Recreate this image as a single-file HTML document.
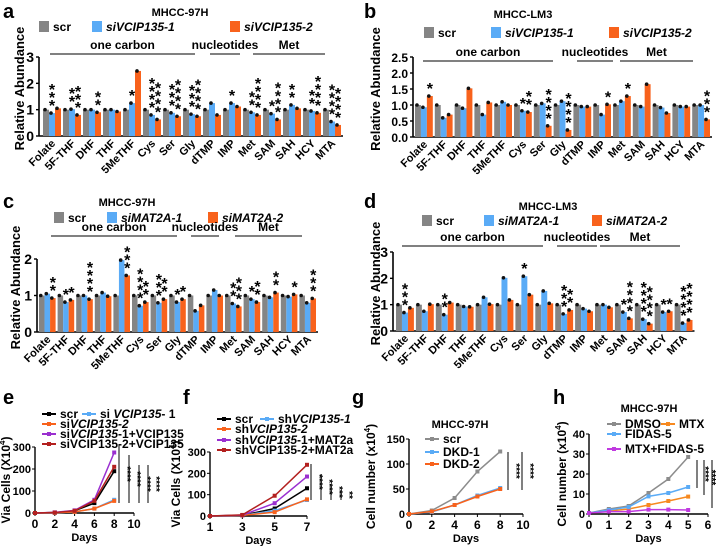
<!DOCTYPE html>
<html><head><meta charset="utf-8">
<style>
body{margin:0;background:#fff;}
svg{display:block;font-family:"Liberation Sans",Arial,sans-serif;}
text{font-weight:bold;fill:#000;}
</style></head>
<body>
<svg id="fig" width="716" height="546" viewBox="0 0 716 546" xmlns="http://www.w3.org/2000/svg"></svg>
<script>
// ---------- DATA ----------
const metabolites = ["Folate","5F-THF","DHF","THF","5MeTHF","Cys","Ser","Gly","dTMP","IMP","Met","SAM","SAH","HCY","MTA"];
const aScr = [1,1,1,1,1,1,1,1,1,1,1,1,1,1,1];
const aSi1 = [0.87,1.02,1.0,1.0,1.25,0.8,0.88,0.83,1.25,1.25,0.9,0.85,1.18,0.95,0.55];
const aSi2 = [1.05,0.8,0.9,0.93,2.47,0.63,0.75,0.75,0.8,1.12,0.8,0.63,1.05,0.88,0.42];
const aStars1 = [3,2,0,0,1,4,3,3,0,1,2,1,2,2,4];
const aStars2 = [0,3,2,0,0,4,4,4,0,0,4,4,0,4,4];
const bScr = [1,1,1,1,1,1,1,1,1,1,1,1,1,1,1];
const bSi1 = [0.93,0.6,0.9,0.7,1.1,0.82,1.05,1.12,0.95,0.7,1.12,0.95,0.92,0.95,1.0];
const bSi2 = [1.28,0.7,1.52,1.08,1.0,0.78,0.35,0.22,0.95,1.02,1.28,1.65,0.75,0.95,0.55];
const bStars1 = [0,0,0,0,0,1,0,0,0,0,0,0,0,0,0];
const bStars2 = [1,0,0,0,0,2,4,4,0,1,1,0,0,0,3];
const cScr = [1,1,1,1,1,1,1,1,1,1,1,1,1,1,1];
const cSi1 = [1.05,0.82,1.0,1.08,1.97,0.72,0.8,0.82,0.58,1.15,0.78,0.9,0.95,0.97,0.8];
const cSi2 = [0.93,0.88,0.9,0.98,1.55,0.82,0.9,0.9,0.73,1.0,0.7,0.82,1.08,1.03,0.92];
const cStars1 = [0,1,0,0,0,4,3,1,0,0,2,1,0,0,0];
const cStars2 = [2,1,4,0,3,2,2,1,0,0,3,2,2,1,3];
const dScr = [1,1,1,1,1,1,1,1,1,1,1,1,1,1,1];
const dSi1 = [0.7,0.75,0.62,0.93,1.28,2.02,2.08,1.52,0.65,0.85,1.0,0.72,0.45,0.72,0.3];
const dSi2 = [0.88,1.02,1.08,0.92,1.02,1.18,1.38,1.05,0.8,0.75,0.9,0.48,0.28,0.75,0.42];
const dStars1 = [3,0,2,0,0,0,1,0,3,0,0,1,4,1,4];
const dStars2 = [0,0,0,0,0,0,0,0,2,0,0,4,4,1,4];
const ticksA = [0,1,2,3];
const ticksB = [0,0.5,1,1.5,2,2.5];
const ticksC = [0,1,2];
const ticksD = [0,1,2,3];

const eDays = [0,2,4,6,8];
const eScr = [0,2,10,45,190];
const eSi1 = [0,1,5,20,60];
const eSi2 = [0,1,5,20,55];
const eSi1V = [0,3,12,60,275];
const eSi2V = [0,2,10,55,210];
const eXt = [0,2,4,6,8,10];
const eYt = [0,100,200,300];

const fDays = [1,3,5,7];
const fScr = [0,3,35,130];
const fSh1 = [0,3,25,75];
const fSh2 = [0,3,18,78];
const fSh1M = [0,4,60,185];
const fSh2M = [0,5,95,240];
const fXt = [1,3,5,7];
const fYt = [0,100,200,300];

const gDays = [0,2,4,6,8];
const gScr = [0,7,32,85,125];
const gDkd1 = [0,4,18,37,52];
const gDkd2 = [0,5,18,35,50];
const gXt = [0,2,4,6,8,10];
const gYt = [0,50,100,150];

const hDays = [0,1,2,3,4,5];
const hDmso = [0.5,2.5,4,10.5,17.5,28.5];
const hFidas = [0.5,2,3.5,8.8,10.5,13.5];
const hMtx = [0.5,1.5,2.5,4.5,6.5,8.7];
const hCombo = [0.5,1.2,1.2,2.2,2.2,2];
const hXt = [0,1,2,3,4,5,6];
const hYt = [0,10,20,30,40];

// ---------- DRAWING ----------
const NS="http://www.w3.org/2000/svg";
const svg=document.getElementById('fig');
const GRAY="#858585", BLUE="#5aabf6", ORANGE="#f8621c", PURPLE="#9a2fd0", DRED="#b3201f", LGRAY="#8c8c8c";
function mk(tag,attrs,parent){const e=document.createElementNS(NS,tag);for(const k in attrs)e.setAttribute(k,attrs[k]);(parent||svg).appendChild(e);return e;}
function txt(x,y,s,size,extra,parent){const t=mk('text',Object.assign({x:x,y:y,'font-size':size},extra||{}),parent);t.textContent=s;return t;}

function barPanel(p, scr, s1, s2, st1, st2, ticks){
  const g=mk('g',{});
  
  
  const yS=v=>p.y0-(v/p.max)*(p.y0-p.yT);
  const bw=(p.gw-2)/3;
  const L=txt(p.lx,p.ly,p.id,20,{},g);
  
  
  const T=txt(p.tx,p.ty,p.title,11,{'text-anchor':'middle'},g);
  
  
  const cols=[GRAY,BLUE,ORANGE];
  for(let i=0;i<3;i++){
    const r=mk('rect',{x:p.leg[i],y:p.legY-6,width:10,height:11,fill:cols[i]},g);
    
    
    const lt=txt(p.leg[i]+14,p.legY+4,p.names[i],12,i?{'font-style':'italic'}:{},g);
    
    
  }
  p.groups.forEach(gr=>{
    const l=mk('line',{x1:gr[1],x2:gr[2],y1:p.gy,y2:p.gy,stroke:'#000','stroke-width':1},g);
    
    
    const t=txt((gr[1]+gr[2])/2,p.gy-5,gr[0],12,{'text-anchor':'middle','font-weight':'normal'},g);
    
    
  });
  const ya=mk('line',{x1:p.ax,x2:p.ax,y1:p.yT,y2:p.y0,stroke:'#000','stroke-width':1.6},g);
  
  
  const xa=mk('line',{x1:p.ax,x2:p.x0+p.gw*15,y1:p.y0,y2:p.y0,stroke:'#000','stroke-width':1.6},g);
  
  
  ticks.forEach(v=>{
    const y=yS(v);
    mk('line',{x1:p.ax-3,x2:p.ax,y1:y,y2:y,stroke:'#000','stroke-width':1.4},g);
    const t=txt(p.ax-5,y+5,p.dec?v.toFixed(1):String(v),p.tfs,{'text-anchor':'end'},g);
    
    
  });
  const yt=txt(0,0,'Relative  Abundance',13,{'text-anchor':'middle',transform:`translate(${p.ytx},${(p.y0+p.yT)/2-8}) rotate(-90)`},g);
  
  
  metabolites.forEach((m,i)=>{
    const gx=p.x0+i*p.gw;
    [scr[i],s1[i],s2[i]].forEach((v,k)=>{
      const x=gx+k*bw, y=yS(v);
      const b=mk('rect',{x:x,y:y,width:bw,height:p.y0-y,fill:cols[k]},g);
      
      
      mk('circle',{cx:x+bw/2-1,cy:y,r:1.8,fill:'#111'},g);
    });
    [[st1[i],1,s1[i]],[st2[i],2,s2[i]]].forEach(([n,k,v])=>{
      for(let j=0;j<n;j++){
        const s=txt(gx+k*bw+bw/2,yS(v)-2-j*8,'*',16,{'text-anchor':'middle','font-weight':'normal'},g);
        
        
      }
    });
    const c=gx+p.gw/2+3;
    const lab=txt(0,0,m,11,{'text-anchor':'end',transform:`translate(${c},${p.y0+8}) rotate(-45)`},g);
    
    
  });
}

barPanel({id:'a',lx:3,ly:18,tx:180,ty:16,title:'MHCC-97H',leg:[39,92,230],legY:27,names:['scr','siVCIP135-1','siVCIP135-2'],
  groups:[['one carbon',50,195],['nucleotides',210,240],['Met',253,325]],gy:54,ax:39,x0:43,gw:20,y0:136,yT:57,max:3,tfs:14,ytx:24},
  aScr,aSi1,aSi2,aStars1,aStars2,ticksA);
barPanel({id:'b',lx:364,ly:18,tx:523,ty:18,title:'MHCC-LM3',leg:[424,491,609],legY:33,names:['scr','siVCIP135-1','siVCIP135-2'],
  groups:[['one carbon',423,553],['nucleotides',577,613],['Met',620,693]],gy:61,ax:413,x0:415,gw:19.8,y0:137,yT:57,max:2.5,tfs:12,dec:true,ytx:380},
  bScr,bSi1,bSi2,bStars1,bStars2,ticksB);
barPanel({id:'c',lx:3,ly:208,tx:127,ty:206,title:'MHCC-97H',leg:[54,107,208],legY:218,names:['scr','siMAT2A-1','siMAT2A-2'],
  groups:[['one carbon',51,177],['nucleotides',191,219],['Met',235,302]],gy:236,ax:37,x0:39,gw:18.6,y0:332,yT:259,max:2,tfs:14,ytx:20},
  cScr,cSi1,cSi2,cStars1,cStars2,ticksC);
barPanel({id:'d',lx:364,ly:208,tx:548,ty:210,title:'MHCC-LM3',leg:[422,484,592],legY:221,names:['scr','siMAT2A-1','siMAT2A-2'],
  groups:[['one carbon',402,543],['nucleotides',557,597],['Met',600,680]],gy:246,ax:393,x0:396,gw:19.9,y0:331,yT:252,max:3,tfs:14,ytx:380},
  dScr,dSi1,dSi2,dStars1,dStars2,ticksD);

function linePanel(p, xs, series, xt, yt){
  const g=mk('g',{});
  
  
  const X=v=>p.ax+(v-p.xmin)/(p.xmax-p.xmin)*(p.xr-p.ax);
  const Y=v=>p.y0-(v/p.ymax)*(p.y0-p.yT);
  const L=txt(p.lx,p.ly,p.id,20,{},g);
  
  
  if(p.title){const T=txt(p.tx,p.ty,p.title,11,{'text-anchor':'middle'},g);
    
    }
  const ya=mk('line',{x1:p.ax,x2:p.ax,y1:p.yT,y2:p.y0,stroke:'#000','stroke-width':1.4},g);
  
  
  const xa=mk('line',{x1:p.ax,x2:p.xr,y1:p.y0,y2:p.y0,stroke:'#000','stroke-width':1.4},g);
  
  
  xt.forEach(v=>{mk('line',{x1:X(v),x2:X(v),y1:p.y0,y2:p.y0+3,stroke:'#000'},g);
    const t=txt(X(v),p.y0+15,String(v),12,{'text-anchor':'middle'},g);
    
    });
  yt.forEach(v=>{mk('line',{x1:p.ax-3,x2:p.ax,y1:Y(v),y2:Y(v),stroke:'#000'},g);
    const t=txt(p.ax-4,Y(v)+4,String(v),11,{'text-anchor':'end'},g);
    
    });
  const xl=txt((p.ax+p.xr)/2,p.y0+28,'Days',11,{'text-anchor':'middle'},g);
  
  
  const ylt=mk('text',{'font-size':12,'text-anchor':'middle',transform:`translate(${p.ytx},${(p.y0+p.yT)/2}) rotate(-90)`},g);
  ylt.innerHTML=p.ytitle+' (<tspan>'+p.unit+'</tspan><tspan dy="-5" font-size="8">4</tspan><tspan dy="5">)</tspan>';
  
  
  series.forEach((s,k)=>{
    const pts=xs.map((d,i)=>X(d)+','+Y(s.v[i])).join(' ');
    const pl=mk('polyline',{points:pts,fill:'none',stroke:s.c,'stroke-width':1.5},g);
    
    
    xs.forEach((d,i)=>{const m=mk('rect',{x:X(d)-2,y:Y(s.v[i])-2,width:4,height:4,fill:s.c},g);
      
      });
    const lg=s.leg;
    mk('line',{x1:lg[0],x2:lg[0]+14,y1:lg[1],y2:lg[1],stroke:s.c,'stroke-width':2},g);
    mk('rect',{x:lg[0]+5,y:lg[1]-2,width:4,height:4,fill:s.c},g);
    const lt=mk('text',{x:lg[0]+18,y:lg[1]+4,'font-size':12},g);
    lt.innerHTML=s.n;
    
    
  });
  (p.sig||[]).forEach(sg=>{
    mk('line',{x1:sg[0],x2:sg[0],y1:sg[1],y2:sg[2],stroke:'#000'},g);
    const st=txt(0,0,sg[3]||'****',10,{'text-anchor':'middle','font-weight':'normal',transform:`translate(${sg[0]+5},${(sg[1]+sg[2])/2}) rotate(90)`},g);
    
    
  });
}

linePanel({id:'e',lx:3,ly:404,ax:35,xr:134,xmin:0,xmax:10,y0:513,yT:447,ymax:300,ytx:10,ytitle:'Via Cells',unit:'X10',
  sig:[[119,445,503],[129,455,503],[139,465,503],[148,465,503]]},eDays,
  [{v:eScr,c:'#000',n:'scr',leg:[42,414]},{v:eSi1,c:BLUE,n:'si <tspan font-style="italic">VCIP135</tspan>- 1',leg:[82,414]},
   {v:eSi2,c:ORANGE,n:'si<tspan font-style="italic">VCIP135-2</tspan>',leg:[42,424]},
   {v:eSi1V,c:PURPLE,n:'si<tspan font-style="italic">VCIP135</tspan>-1+VCIP135',leg:[42,434]},
   {v:eSi2V,c:DRED,n:'siVCIP135-2+VCIP135',leg:[42,444]}],eXt,eYt);
linePanel({id:'f',lx:183,ly:404,ax:210,xr:307,xmin:1,xmax:7,y0:516,yT:452,ymax:300,ytx:180,ytitle:'Via Cells',unit:'X10',
  sig:[[311,464,500],[321,474,500],[331,484,500,'***'],[341,490,500,'**']]},fDays,
  [{v:fScr,c:'#000',n:'scr',leg:[217,419]},{v:fSh1,c:BLUE,n:'sh<tspan font-style="italic">VCIP135-1</tspan>',leg:[260,419]},
   {v:fSh2,c:ORANGE,n:'sh<tspan font-style="italic">VCIP135-2</tspan>',leg:[217,429]},
   {v:fSh1M,c:PURPLE,n:'sh<tspan font-style="italic">VCIP135</tspan>-1+MAT2a',leg:[217,440]},
   {v:fSh2M,c:DRED,n:'shVCIP135-2+MAT2a',leg:[217,450]}],fXt,fYt);
linePanel({id:'g',lx:352,ly:404,ax:409,xr:523,xmin:0,xmax:10,y0:514,yT:439,ymax:150,ytx:375,ytitle:'Cell number',unit:'x10',
  title:'MHCC-97H',tx:460,ty:428,sig:[[508,452,490],[522,452,490]]},gDays,
  [{v:gScr,c:LGRAY,n:'scr',leg:[425,439]},{v:gDkd1,c:BLUE,n:'DKD-1',leg:[425,452]},{v:gDkd2,c:ORANGE,n:'DKD-2',leg:[425,464]}],gXt,gYt);
linePanel({id:'h',lx:553,ly:404,ax:589,xr:708,xmin:0,xmax:6,y0:514,yT:434,ymax:40,ytx:566,ytitle:'Cell number',unit:'x10',
  title:'MHCC-97H',tx:649,ty:412,sig:[[697,460,488],[704,460,495],[712,460,508]]},hDays,
  [{v:hDmso,c:LGRAY,n:'DMSO',leg:[607,424]},{v:hMtx,c:'#f7891f',n:'MTX',leg:[661,424]},
   {v:hFidas,c:BLUE,n:'FIDAS-5',leg:[607,434]},{v:hCombo,c:'#c03ae0',n:'MTX+FIDAS-5',leg:[607,449]}],hXt,hYt);
</script>
</body></html>
